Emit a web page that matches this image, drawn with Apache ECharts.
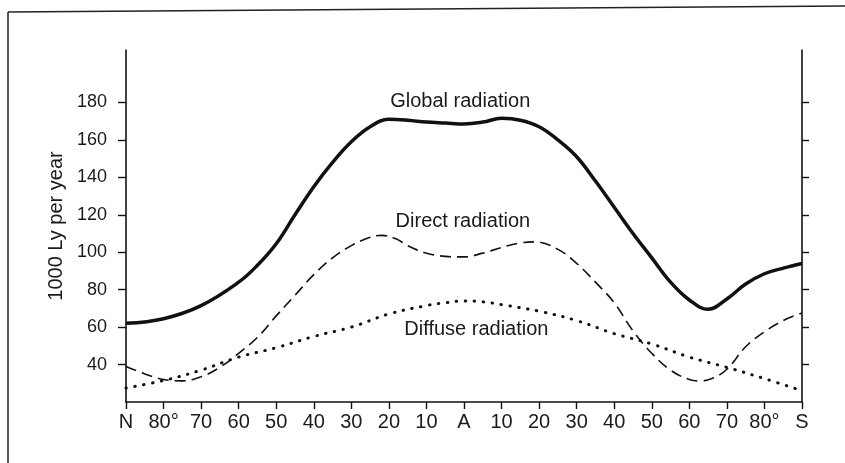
<!DOCTYPE html>
<html>
<head>
<meta charset="utf-8">
<script src="https://cdn.jsdelivr.net/npm/echarts@6/dist/echarts.min.js"></script>
<style>
  html, body { margin: 0; padding: 0; background: #fff; }
  #chart { width: 845px; height: 463px; }
</style>
</head>
<body>
<div id="chart"></div>
<script>
// latitude: -90 = N pole, 0 = equator (A), 90 = S pole
const globalRadiation = [
  [-90, 62], [-80, 64.5], [-70, 71.5], [-60, 84], [-55, 93], [-50, 104.5],
  [-45, 120], [-40, 135], [-35, 148], [-30, 159], [-25, 167], [-20, 171],
  [-15, 170.5], [-10, 169.5], [-5, 169], [0, 168.5], [5, 169.5], [10, 171.5],
  [15, 170.5], [20, 167], [25, 160], [30, 151], [35, 138], [40, 124],
  [45, 110], [50, 97], [55, 84], [60, 74.5], [65, 69.5], [70, 75],
  [75, 83], [80, 88.5], [85, 91.5], [90, 94]
];
const directRadiation = [
  [-90, 39], [-85, 35], [-80, 32], [-75, 31.3], [-70, 33.5], [-65, 38.5],
  [-60, 46], [-55, 54.5], [-50, 66], [-45, 77], [-40, 88], [-35, 97],
  [-30, 103.5], [-25, 108], [-22, 109], [-18, 107], [-15, 103.5], [-10, 99.5],
  [-5, 97.8], [0, 97.5], [5, 99.5], [10, 102.5], [15, 105], [19, 105.5],
  [25, 101.5], [30, 94], [35, 84], [40, 73], [45, 58], [50, 46],
  [55, 37], [60, 32], [63, 31.2], [66, 32.5], [70, 37.5], [75, 49.5],
  [80, 57.5], [85, 63.5], [90, 67.5]
];
const diffuseRadiation = [
  [-90, 27.5], [-80, 31.5], [-70, 37], [-60, 44], [-50, 49], [-40, 55],
  [-30, 60], [-20, 67], [-10, 71.5], [-5, 73], [0, 74], [5, 73.5],
  [10, 72], [20, 68.5], [30, 63.5], [40, 56.5], [50, 51], [60, 44],
  [70, 38.5], [80, 32.5], [90, 26]
];
const yTicks = [40, 60, 80, 100, 120, 140, 160, 180];
const curveLabels = [
  ['Global radiation', -1, 180.5],
  ['Direct radiation', -0.3, 116.3],
  ['Diffuse radiation', 3.3, 58.5]
];

function latLabel(v) {
  if (v === -90) return 'N';
  if (v === 90) return 'S';
  if (v === 0) return 'A';
  if (Math.abs(v) === 80) return '80°';
  return String(Math.abs(v));
}

function labelPoint(i) {
  const l = curveLabels[i];
  return {
    symbol: 'circle',
    symbolSize: 0,
    silent: true,
    label: {
      show: true,
      position: 'inside',
      formatter: l[0],
      color: '#1a1a1a',
      fontSize: 20,
      fontFamily: 'Liberation Sans, Arial, sans-serif'
    },
    data: [{ coord: [l[1], l[2]] }]
  };
}

const chart = echarts.init(document.getElementById('chart'));
const lineStyle = { color: '#111', width: 1.6 };
const tickStyle = { lineStyle: { color: '#111', width: 1.4 } };

chart.setOption({
  animation: false,
  backgroundColor: '#fff',
  graphic: [
    { type: 'line', shape: { x1: 8, y1: 12, x2: 845, y2: 6 }, style: { stroke: '#222', lineWidth: 1.5 } },
    { type: 'line', shape: { x1: 8, y1: 12, x2: 8, y2: 463 }, style: { stroke: '#222', lineWidth: 1.5 } }
  ],
  grid: { left: 126, right: 43, top: 50, bottom: 61 },
  xAxis: {
    type: 'value',
    min: -90,
    max: 90,
    interval: 10,
    splitLine: { show: false },
    axisLine: { onZero: false, lineStyle: lineStyle },
    axisTick: { show: true, length: 7, ...tickStyle },
    axisLabel: {
      formatter: latLabel,
      color: '#1a1a1a',
      fontSize: 20,
      margin: 10,
      fontFamily: 'Liberation Sans, Arial, sans-serif'
    }
  },
  yAxis: [
    {
      type: 'value',
      min: 20,
      max: 208,
      name: '1000 Ly per year',
      nameLocation: 'middle',
      nameGap: 57,
      nameTextStyle: { color: '#1a1a1a', fontSize: 20, fontFamily: 'Liberation Sans, Arial, sans-serif' },
      splitLine: { show: false },
      axisLine: { show: true, onZero: false, lineStyle: lineStyle },
      axisTick: { show: true, length: 8, customValues: yTicks, ...tickStyle },
      axisLabel: {
        customValues: yTicks,
        color: '#1a1a1a',
        fontSize: 18,
        margin: 19,
        fontFamily: 'Liberation Sans, Arial, sans-serif'
      }
    },
    {
      type: 'value',
      position: 'right',
      min: 20,
      max: 208,
      splitLine: { show: false },
      axisLine: { show: true, onZero: false, lineStyle: lineStyle },
      axisTick: { show: true, length: 7, customValues: yTicks, ...tickStyle },
      axisLabel: { show: false }
    }
  ],
  series: [
    {
      name: 'Global radiation',
      type: 'line',
      data: globalRadiation,
      smooth: 0.4,
      showSymbol: false,
      lineStyle: { color: '#111', width: 3.5 },
      markPoint: labelPoint(0)
    },
    {
      name: 'Direct radiation',
      type: 'line',
      data: directRadiation,
      smooth: 0.4,
      showSymbol: false,
      lineStyle: { color: '#111', width: 1.6, type: [11, 6] },
      markPoint: labelPoint(1)
    },
    {
      name: 'Diffuse radiation',
      type: 'line',
      data: diffuseRadiation,
      smooth: 0.4,
      showSymbol: false,
      lineStyle: { color: '#111', width: 3, type: [0.5, 8.5], cap: 'round' },
      markPoint: labelPoint(2)
    }
  ]
});
</script>
</body>
</html>
